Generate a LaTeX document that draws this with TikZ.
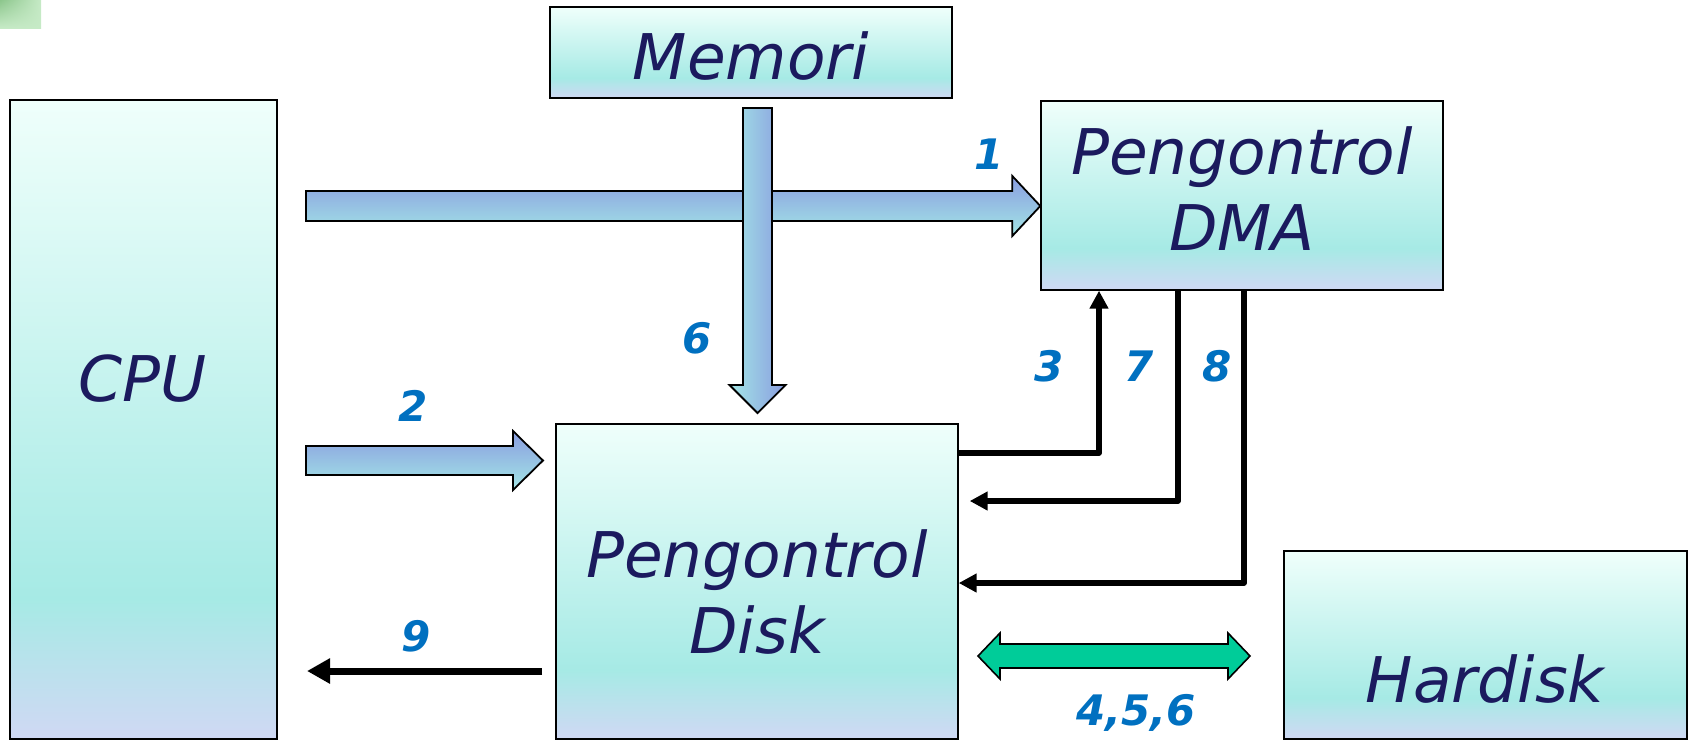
\documentclass[tikz,border=0pt]{standalone}
\usepackage{fontspec}
\setmainfont{DejaVu Sans}
\usetikzlibrary{arrows.meta,calc,shadings}

\definecolor{boxtop}{HTML}{EFFFFB}
\definecolor{boxturq}{HTML}{A6EAE5}
\definecolor{boxlav}{HTML}{D0D8F4}
\definecolor{txtnavy}{HTML}{1B1A5E}
\definecolor{numblue}{HTML}{0070C0}
\definecolor{arrblue}{HTML}{8A9DE0}
\definecolor{arrcyan}{HTML}{A3E6E6}
\definecolor{busgreen}{HTML}{00CC99}
\definecolor{cornerdark}{HTML}{8CC68C}
\definecolor{cornerlight}{HTML}{C6EAC6}

% light top, turquoise band low down, lavender bottom
\pgfdeclareverticalshading{boxshade}{100bp}{color(0bp)=(boxlav); color(25bp)=(boxlav); color(36bp)=(boxturq); color(75bp)=(boxtop); color(100bp)=(boxtop)}

% fat arrow pointing right: style, tail, tip, shaft half-width, head half-width, head length
\newcommand\rightblock[6]{%
  \path[#1] let \p1=(#2), \p2=(#3) in
    (\x1,\y1+#4) -- (\x2-#6,\y1+#4) -- (\x2-#6,\y1+#5) -- (\x2,\y1)
    -- (\x2-#6,\y1-#5) -- (\x2-#6,\y1-#4) -- (\x1,\y1-#4) -- cycle;}
% fat arrow pointing down
\newcommand\downblock[6]{%
  \path[#1] let \p1=(#2), \p2=(#3) in
    (\x1-#4,\y1) -- (\x1-#4,\y2+#6) -- (\x1-#5,\y2+#6) -- (\x1,\y2)
    -- (\x1+#5,\y2+#6) -- (\x1+#4,\y2+#6) -- (\x1+#4,\y1) -- cycle;}
% fat double-headed arrow
\newcommand\twinblock[6]{%
  \path[#1] let \p1=(#2), \p2=(#3) in
    (\x1,\y1) -- (\x1+#6,\y1+#5) -- (\x1+#6,\y1+#4) -- (\x2-#6,\y1+#4)
    -- (\x2-#6,\y1+#5) -- (\x2,\y1) -- (\x2-#6,\y1-#5) -- (\x2-#6,\y1-#4)
    -- (\x1+#6,\y1-#4) -- (\x1+#6,\y1-#5) -- cycle;}

\begin{document}
\begin{tikzpicture}[x=0.5pt,y=-0.5pt,
  box/.style={draw=black, line width=0.7pt, shade, shading=boxshade, inner sep=0pt},
  boxtext/.style={font=\fontsize{31.5}{38}\selectfont\itshape, text=txtnavy, align=center, inner sep=0pt},
  numlbl/.style={font=\fontsize{21}{25}\selectfont\bfseries\itshape, text=numblue, inner sep=0pt},
  hpaint/.style={draw=black, line width=0.9pt, top color=arrblue, bottom color=arrcyan},
  vpaint/.style={draw=black, line width=0.9pt, left color=arrcyan, right color=arrblue},
  buspaint/.style={draw=black, line width=0.8pt, fill=busgreen},
  wire/.style={draw=black, line width=2.6pt, line join=round, -{Triangle[length=9pt,width=9pt]}},
  wirefat/.style={draw=black, line width=3.5pt, -{Triangle[length=11.5pt,width=12pt]}}]

\useasboundingbox (0,0) rectangle (1690,740);

% corner tab
\shade[upper left=cornerdark, upper right=cornerlight, lower left=cornerlight, lower right=cornerlight] (0,0) rectangle (41,28);

% blocks
\node[box, minimum width=133.5pt, minimum height=319.5pt] (cpu) at (143.5,419.5) {};
\node[box, minimum width=201pt, minimum height=45.5pt] (mem) at (751,52.5) {};
\node[box, minimum width=201pt, minimum height=94.5pt] (dma) at (1242,195.5) {};
\node[box, minimum width=201pt, minimum height=157.5pt] (dsk) at (757,581.5) {};
\node[box, minimum width=201.5pt, minimum height=94pt] (hdd) at (1485.5,645) {};

\node[boxtext] (cputxt) at (143,379) {CPU};
\node[boxtext] (memtxt) at (751,56) {Memori};
\node[boxtext] (dmatxt) at (1242,189) {Pengontrol\\DMA};
\node[boxtext] (dsktxt) at (757,592) {Pengontrol\\Disk};
\node[boxtext] (hddtxt) at (1485,679) {Hardisk};

% anchor points of the connectors
\coordinate (a1tail) at (306,206);
\coordinate (a2tail) at (306,460.5);
\coordinate (a2tip) at (543,460.5);
\coordinate (a6tail) at (757.5,108);
\coordinate (a6tip) at (757.5,413);
\coordinate (busL) at (978,656);
\coordinate (busR) at (1250,656);
\coordinate (w3) at (1099,453);
\coordinate (w7) at (1178,501);
\coordinate (w8) at (1244,583);
\coordinate (w9s) at (542,671);
\coordinate (w9e) at (307,671);

% CPU -> DMA controller, memory -> disk controller, CPU -> disk controller
\rightblock{hpaint}{a1tail}{dma.west |- a1tail}{7.5pt}{15pt}{14pt}
\downblock{vpaint}{a6tail}{a6tip}{7.25pt}{14pt}{14pt}
\rightblock{hpaint}{a2tail}{a2tip}{7.25pt}{14.75pt}{15pt}

% handshake lines between the controllers
\draw[wire] (dsk.east |- w3) -- (w3) -- (w3 |- dma.south);
\draw[wire] (w7 |- dma.south) -- (w7) -- ($(dsk.east |- w7)+(11,0)$);
\draw[wire] (w8 |- dma.south) -- (w8) -- (dsk.east |- w8);
\draw[wirefat] (w9s) -- (w9e);

% disk controller <-> hard disk
\twinblock{buspaint}{busL}{busR}{6pt}{11.5pt}{11pt}

% step numbers
\node[numlbl] (n1) at (989,154) {1};
\node[numlbl] (n2) at (413,406) {2};
\node[numlbl] (n6) at (697,338) {6};
\node[numlbl] (n3) at (1049,366) {3};
\node[numlbl] (n7) at (1139,366) {7};
\node[numlbl] (n8) at (1217,366) {8};
\node[numlbl] (n9) at (416,636) {9};
\node[numlbl] (n456) at (1136,713) {4,5,6};
\end{tikzpicture}
\end{document}
